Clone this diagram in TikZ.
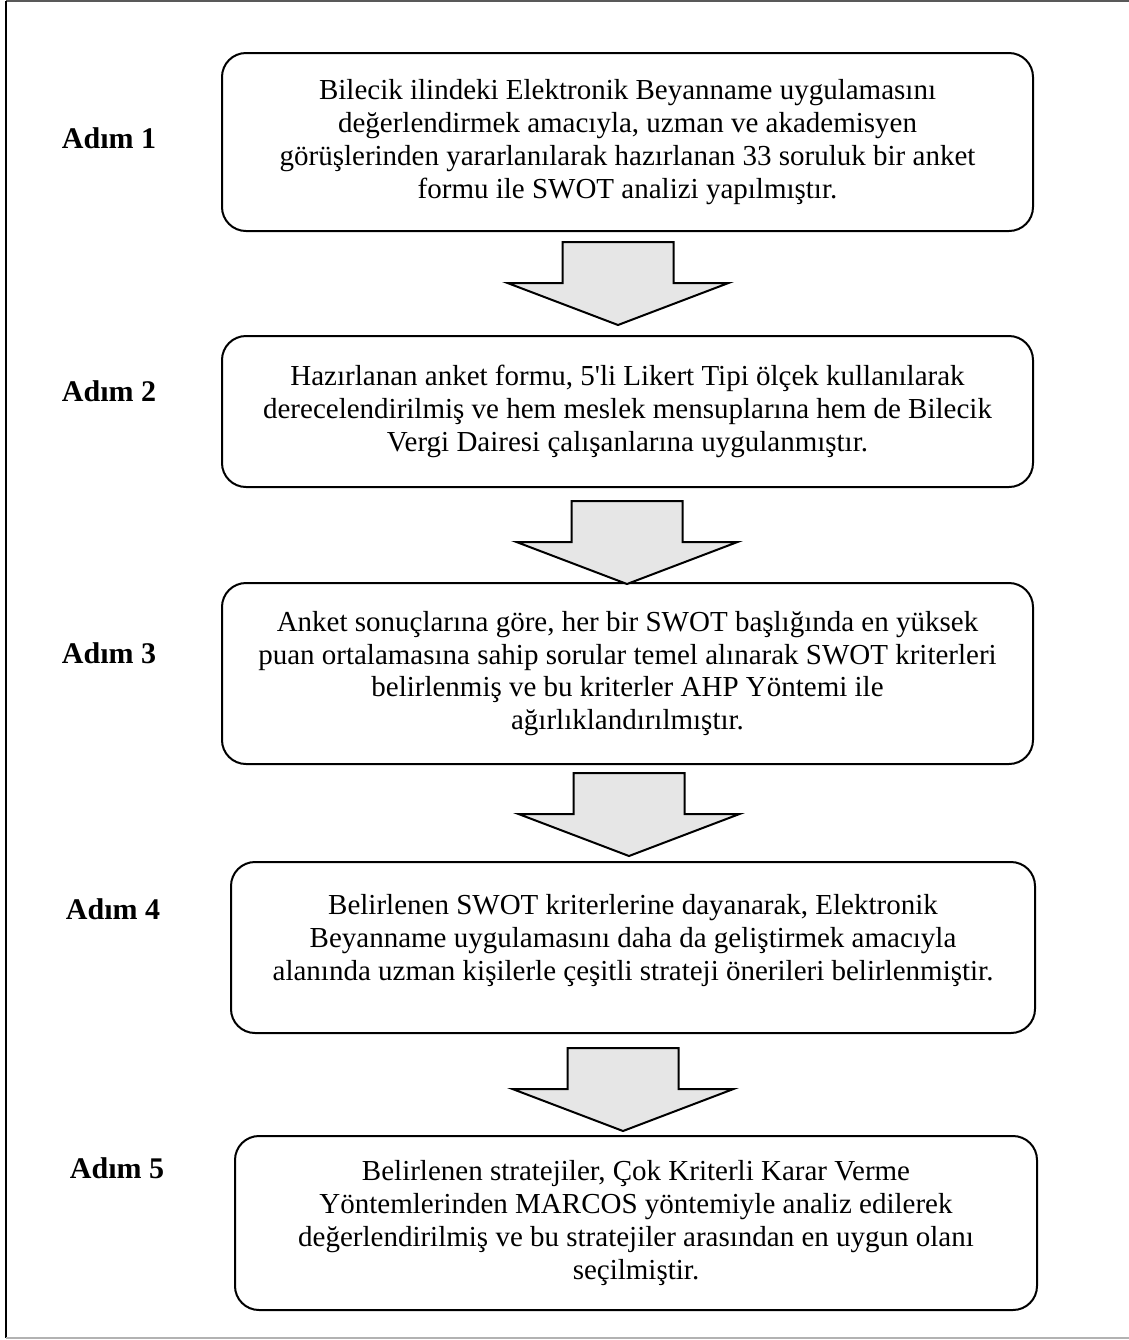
\documentclass[tikz,border=0pt]{standalone}
\usepackage{fontspec}
\setmainfont{Liberation Serif}

\def\unitpx{0.5pt}
\definecolor{arrowgray}{HTML}{E6E6E6}
\tikzstyle{stepbox}=[draw=black, line width=1pt, rounded corners=12pt, inner sep=0pt]
\tikzstyle{steptext}=[align=center, inner sep=0pt, font=\fontsize{14.5}{16.4}\selectfont]
\tikzstyle{steplabel}=[inner sep=0pt, font=\fontsize{15}{17}\selectfont\bfseries]
\tikzstyle{blockarrow}=[draw=black, line width=1pt, fill=arrowgray, line join=miter]

\begin{document}
\begin{tikzpicture}[x=\unitpx, y=-\unitpx]
  \useasboundingbox (0,0) rectangle (1129,1340);
  % outer frame (right side cut off)
  \draw [line width=1pt, black!65] (6,1) -- (1129,1);
  \draw [line width=1pt, black] (6,1) -- (6,1338);
  \draw [line width=1pt, black!30] (6,1338) -- (1129,1338);

  % step boxes
  \node [stepbox, minimum width=811*\unitpx, minimum height=178*\unitpx] (box1) at (627.5,142) {};
  \node [stepbox, minimum width=811*\unitpx, minimum height=151*\unitpx] (box2) at (627.5,411.5) {};
  \node [stepbox, minimum width=811*\unitpx, minimum height=181*\unitpx] (box3) at (627.5,673.5) {};
  \node [stepbox, minimum width=804*\unitpx, minimum height=171*\unitpx] (box4) at (633,947.5) {};
  \node [stepbox, minimum width=802*\unitpx, minimum height=174*\unitpx] (box5) at (636,1223) {};

  % box texts
  \node [steptext] (text1) at (box1.center) {Bilecik ilindeki Elektronik Beyanname uygulamasını\\
    değerlendirmek amacıyla, uzman ve akademisyen\\
    görüşlerinden yararlanılarak hazırlanan 33 soruluk bir anket\\
    formu ile SWOT analizi yapılmıştır.};
  \node [steptext] (text2) at (box2.center) {Hazırlanan anket formu, 5\textquotesingle li Likert Tipi ölçek kullanılarak\\
    derecelendirilmiş ve hem meslek mensuplarına hem de Bilecik\\
    Vergi Dairesi çalışanlarına uygulanmıştır.};
  \node [steptext] (text3) at (box3.center) {Anket sonuçlarına göre, her bir SWOT başlığında en yüksek\\
    puan ortalamasına sahip sorular temel alınarak SWOT kriterleri\\
    belirlenmiş ve bu kriterler AHP Yöntemi ile\\
    ağırlıklandırılmıştır.};
  \node [steptext, yshift=7*\unitpx] (text4) at (box4.center) {Belirlenen SWOT kriterlerine dayanarak, Elektronik\\
    Beyanname uygulamasını daha da geliştirmek amacıyla\\
    alanında uzman kişilerle çeşitli strateji önerileri belirlenmiştir.};
  \node [steptext] (text5) at (box5.center) {Belirlenen stratejiler, Çok Kriterli Karar Verme\\
    Yöntemlerinden MARCOS yöntemiyle analiz edilerek\\
    değerlendirilmiş ve bu stratejiler arasından en uygun olanı\\
    seçilmiştir.};

  % step labels
  \foreach \x/\y [count=\i] in {109/138, 109/391, 109/653, 113/909, 117/1168}
    \node [steplabel] (label-\i) at (\x,\y) {Adım \i};

  % block arrows between boxes
  \foreach \x/\y [count=\i] in {618/242, 627/501, 629/773, 623/1048}
  {
    \coordinate (arrow-\i) at (\x,\y);
    \draw [blockarrow, shift={(arrow-\i)}] (-55.5,0) -- (55.5,0) -- (55.5,41)
      -- (110.5,41) -- (0,83) -- (-110.5,41) -- (-55.5,41) -- cycle;
  }
\end{tikzpicture}
\end{document}
